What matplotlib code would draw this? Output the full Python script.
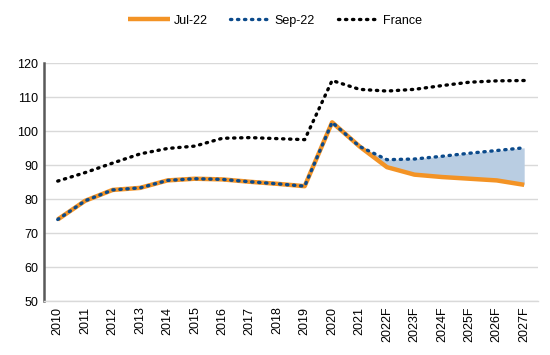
import matplotlib

matplotlib.use("Agg")
import matplotlib.pyplot as plt
import numpy as np

YEARS = ["2010", "2011", "2012", "2013", "2014", "2015", "2016", "2017", "2018",
         "2019", "2020", "2021", "2022F", "2023F", "2024F", "2025F", "2026F", "2027F"]
JUL_22 = [74.0, 79.5, 82.7, 83.3, 85.5, 86.0, 85.8, 85.1, 84.5,
          83.8, 102.6, 95.5, 89.4, 87.2, 86.5, 86.0, 85.5, 84.2]
SEP_22 = [74.0, 79.5, 82.7, 83.3, 85.5, 86.0, 85.8, 85.1, 84.5,
          83.8, 102.6, 95.5, 91.6, 91.8, 92.6, 93.5, 94.3, 95.1]
FRANCE = [85.3, 87.8, 90.6, 93.3, 94.9, 95.6, 97.9, 98.1, 97.8,
          97.5, 114.9, 112.3, 111.8, 112.3, 113.4, 114.4, 114.8, 114.9]

C_ORANGE = "#f39325"
C_BLUE = "#0b4a8b"
C_FILL = "#b9cde2"

plt.rcParams.update({
    "font.family": ["Liberation Sans", "DejaVu Sans"],
    "font.size": 9,
})

x = np.arange(len(YEARS))
fig = plt.figure(figsize=(5.5, 3.55), dpi=100)
ax = fig.add_axes([0.08, 0.152, 0.898, 0.670])

ax.fill_between(x[11:], JUL_22[11:], SEP_22[11:], color=C_FILL, lw=0, zorder=1)
ax.plot(x, JUL_22, color=C_ORANGE, lw=3.2, solid_capstyle="butt", label="Jul-22", zorder=2)
ax.plot(x, SEP_22, color=C_BLUE, lw=2.4, ls=(0, (0.4, 1.7)), dash_capstyle="round",
        label="Sep-22", zorder=3)
ax.plot(x, FRANCE, color="black", lw=2.4, ls=(0, (0.4, 1.7)), dash_capstyle="round",
        label="France", zorder=3)

ax.set_ylim(50, 120)
ax.set_yticks(range(50, 121, 10))
ax.set_xlim(-0.5, len(YEARS) - 0.5)
ax.set_xticks(x)
ax.set_xticklabels(YEARS, rotation=90)
ax.tick_params(length=0, pad=4, labelsize=9)
ax.grid(axis="y", color="#d9d9d9", lw=1)
ax.set_axisbelow(True)
for side in ("top", "right"):
    ax.spines[side].set_visible(False)
ax.spines["left"].set_color("#595959")
ax.spines["left"].set_linewidth(1.8)
ax.spines["bottom"].set_color("#d9d9d9")
ax.spines["bottom"].set_linewidth(1)

fig.legend(loc="upper center", bbox_to_anchor=(0.5, 0.99), ncol=3, frameon=False,
           fontsize=9, handlelength=3.3, columnspacing=1.8, handletextpad=0.3)

fig.savefig("out.png", dpi=100)
